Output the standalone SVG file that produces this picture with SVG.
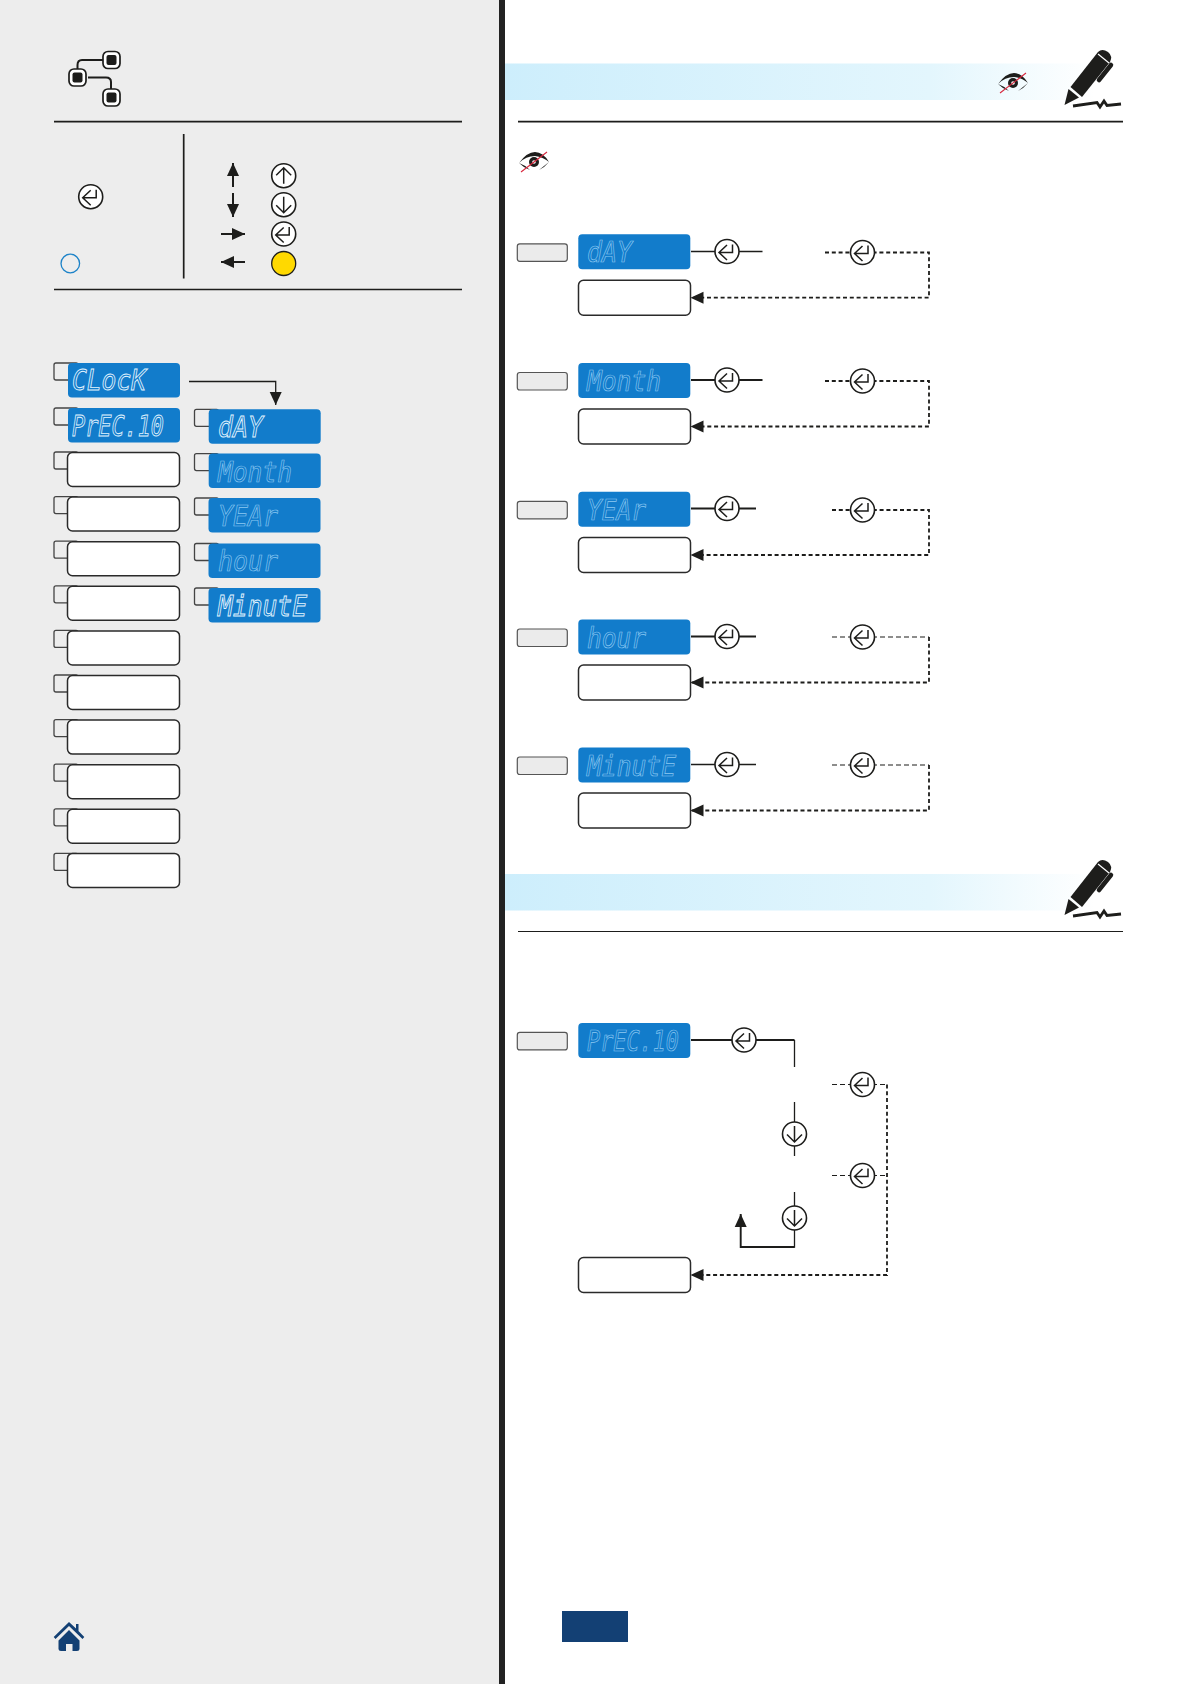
<svg xmlns="http://www.w3.org/2000/svg" xmlns:xlink="http://www.w3.org/1999/xlink" width="1191" height="1684" viewBox="0 0 1191 1684">
<style>
.disp{fill:#127ccb}
.blank{fill:#fff;stroke:#2a2a2a;stroke-width:1.5}
.tab{fill:#ededed;stroke:#444;stroke-width:1.3}
.grey{fill:#ebebeb;stroke:#555;stroke-width:1.2}
.seg{font-family:"DejaVu Sans Mono","Liberation Mono",monospace;font-style:italic;font-size:28px;fill:#127ccb;stroke:#e4f5ff;stroke-width:.9}
.dim{stroke:#8cc8f2;stroke-width:.7}
.key{fill:#fff;stroke:#1d1d1b;stroke-width:1.6}
.gl{fill:none;stroke:#1d1d1b;stroke-width:1.5}
.s{fill:none;stroke:#1d1d1b;stroke-width:1.3}
.a{marker-end:url(#ah)}
.d{stroke-dasharray:4 2.8;stroke-width:1.8}
.d2{stroke-dasharray:5 3;stroke-width:1.1}
.r{fill:none;stroke:#1d1d1b;stroke-width:1.9}
</style>
<defs>
<marker id="ah" markerUnits="userSpaceOnUse" markerWidth="14" markerHeight="13" refX="13" refY="6.5" orient="auto"><path d="M0 0.5L13 6.5L0 12.5Z" fill="#1d1d1b"/></marker>
<linearGradient id="band" x1="0" x2="1" y1="0" y2="0"><stop offset="0" stop-color="#cdeefc"/><stop offset=".72" stop-color="#e3f6fd"/><stop offset="1" stop-color="#fff"/></linearGradient>
<g id="enter"><circle class="key" r="12"/><path class="gl" d="M5.500-7V1H-8M0-6.500L-8 1L0 8.500"/></g>
<g id="up"><circle class="key" r="12"/><path class="gl" d="M0 8V-8M-7.500-.5L0-8L7.500-.5"/></g>
<g id="down"><circle class="key" r="12"/><path class="gl" d="M0-8V8M-7.500 .5L0 8L7.500 .5"/></g>
<g id="eye"><path d="M-15 1Q-7-10 1-10Q9-10 15 0Q9-5 1-6Q-8-6-15 1Z" fill="#1d1d1b"/><path d="M-15 1Q-10 6-4 8Q-9 3-15 1ZM15 0Q11 5 5 8Q10 4 15 0Z" fill="#1d1d1b"/><circle r="5" fill="#1d1d1b"/><circle r="1.800" fill="#fff"/><path d="M-13 10L13-10" stroke="#d8263c" stroke-width="1.100"/></g>
<g id="pencil"><path d="M1064.500 105L1068.500 89L1079 97.500Z" fill="#1d1d1b"/><path d="M1070.500 87L1098 52Q1102 48 1108 52Q1113 56 1110 62L1082 97Z" fill="#1d1d1b"/><path d="M1098 54L1109 63" stroke="#fff" stroke-width="1.200"/><path d="M1099 80L1111 65" stroke="#1d1d1b" stroke-width="4.500" stroke-linecap="round"/><path d="M1073 106L1097 102.500L1100 107L1104 101L1107 105.500L1121 104" fill="none" stroke="#1d1d1b" stroke-width="2.800"/></g>
</defs>
<rect id="left-panel" width="499" height="1684" fill="#ededed"/>
<rect id="divider" x="499" width="6" height="1684" fill="#222"/>
<g id="hierarchy-icon" fill="none" stroke="#1d1d1b">
<path d="M103 60H82Q77.500 60 77.500 65V70M88 77.500H106Q111 77.500 111 82V90" stroke-width="2"/>
<rect x="103" y="51.500" width="17" height="17" rx="5" fill="#fff" stroke-width="1.700"/><rect x="106.500" y="55" width="10" height="10" rx="2" fill="#1d1d1b" stroke="none"/>
<rect x="69" y="69" width="17" height="17" rx="5" fill="#fff" stroke-width="1.700"/><rect x="72.500" y="72.500" width="10" height="10" rx="2" fill="#1d1d1b" stroke="none"/>
<rect x="103" y="89" width="17" height="17" rx="5" fill="#fff" stroke-width="1.700"/><rect x="106.500" y="92.500" width="10" height="10" rx="2" fill="#1d1d1b" stroke="none"/>
</g>
<g id="rules" stroke="#1d1d1b" stroke-width="1.700">
<path d="M54 121.700H462M54 289.500H462M183.700 134V278.500M518 121.700H1123"/><path d="M518 931.500H1123" stroke-width="1.100"/>
</g>
<g id="legend">
<use href="#enter" x="90.700" y="196.700"/>
<circle id="legend-blue" cx="70.300" cy="263.500" r="9.300" fill="none" stroke="#1b82c8" stroke-width="1.300"/>
<use href="#up" x="283.700" y="175.700"/><use href="#down" x="283.700" y="204.700"/><use href="#enter" x="283.700" y="234"/>
<circle id="legend-yellow" cx="283.700" cy="263.500" r="12" fill="#ffd900" stroke="#1d1d1b" stroke-width="1.300"/>
</g>
<g id="connectors">
<g class="s" stroke-width="1.500">
<path class="a" d="M233 187V163" style="stroke-width:2"/><path class="a" d="M233 193V217" style="stroke-width:2"/><path class="a" d="M221 234H245" style="stroke-width:2"/><path class="a" d="M245 262H221" style="stroke-width:2"/>
<path class="a" d="M189 381.500H275.700V405"/>
</g>
<path class="s" d="M691 251.500H762.500"/><path class="s d a" d="M825 252.500H929V297.700H690.500"/>
<path class="r" d="M691 380H762.500"/><path class="s d a" d="M825 381H929V426.500H690.500" />
<path class="r" d="M691 508.500H756"/><path class="s d a" d="M832 510H929V555H690.500"/>
<path class="r" d="M691 636.500H756"/><path class="s d2" d="M832 637H929"/><path class="s d a" d="M929 637V682.500H690.500"/>
<path class="s" d="M691 764.500H756"/><path class="s d2" d="M832 765H929"/><path class="s d a" d="M929 765V810.500H690.500"/>
<path class="r" d="M691 1040H794.500"/><path class="s" d="M794.500 1040V1067M794.500 1102V1156M794.500 1192V1247H740.700"/><path class="r a" d="M794.500 1247H740.700V1214"/>
<path class="s d2" d="M832 1084.500H887M832 1175.500H887"/><path class="s d a" d="M887 1084.500V1275H690.500"/>
</g>
<g id="menu-left">
<g id="m-clock"><rect class="tab" x="54" y="363" width="24" height="17" rx="2"/><rect class="disp" x="68" y="363" width="112" height="34.500" rx="4"/><text class="seg" x="72" y="390" textLength="74" lengthAdjust="spacingAndGlyphs">CLocK</text></g>
<g id="m-prec"><rect class="tab" x="54" y="408" width="24" height="17" rx="2"/><rect class="disp" x="68" y="408" width="112" height="34.500" rx="4"/><text class="seg" x="72" y="435.500" textLength="92" lengthAdjust="spacingAndGlyphs">PrEC.10</text></g>
<g id="m3"><rect class="tab" x="54" y="452" width="24" height="17" rx="2"/><rect class="blank" x="67.500" y="452.500" width="112" height="34" rx="5"/></g>
<g id="m4"><rect class="tab" x="54" y="496.600" width="24" height="17" rx="2"/><rect class="blank" x="67.500" y="497" width="112" height="34" rx="5"/></g>
<g id="m5"><rect class="tab" x="54" y="541.200" width="24" height="17" rx="2"/><rect class="blank" x="67.500" y="541.700" width="112" height="34" rx="5"/></g>
<g id="m6"><rect class="tab" x="54" y="585.800" width="24" height="17" rx="2"/><rect class="blank" x="67.500" y="586.300" width="112" height="34" rx="5"/></g>
<g id="m7"><rect class="tab" x="54" y="630.400" width="24" height="17" rx="2"/><rect class="blank" x="67.500" y="630.900" width="112" height="34" rx="5"/></g>
<g id="m8"><rect class="tab" x="54" y="675" width="24" height="17" rx="2"/><rect class="blank" x="67.500" y="675.500" width="112" height="34" rx="5"/></g>
<g id="m9"><rect class="tab" x="54" y="719.600" width="24" height="17" rx="2"/><rect class="blank" x="67.500" y="720.100" width="112" height="34" rx="5"/></g>
<g id="m10"><rect class="tab" x="54" y="764.200" width="24" height="17" rx="2"/><rect class="blank" x="67.500" y="764.700" width="112" height="34" rx="5"/></g>
<g id="m11"><rect class="tab" x="54" y="808.800" width="24" height="17" rx="2"/><rect class="blank" x="67.500" y="809.300" width="112" height="34" rx="5"/></g>
<g id="m12"><rect class="tab" x="54" y="853.400" width="24" height="17" rx="2"/><rect class="blank" x="67.500" y="853.400" width="112" height="34" rx="5"/></g>
</g>
<g id="menu-right">
<g id="c-day"><rect class="tab" x="194.500" y="409.300" width="24" height="17" rx="2"/><rect class="disp" x="208.700" y="409.300" width="112" height="34.500" rx="4"/><text class="seg" x="218" y="437" textLength="45" lengthAdjust="spacingAndGlyphs">dAY</text></g>
<g id="c-month"><rect class="tab" x="194.500" y="453.600" width="24" height="17" rx="2"/><rect class="disp" x="208.700" y="453.600" width="112" height="34.500" rx="4"/><text class="seg dim" x="218" y="481.500" textLength="74" lengthAdjust="spacingAndGlyphs">Month</text></g>
<g id="c-year"><rect class="tab" x="194.500" y="498" width="24" height="17" rx="2"/><rect class="disp" x="208.500" y="498" width="112" height="34.500" rx="4"/><text class="seg dim" x="218" y="525.500" textLength="60" lengthAdjust="spacingAndGlyphs">YEAr</text></g>
<g id="c-hour"><rect class="tab" x="194.500" y="543.500" width="24" height="17" rx="2"/><rect class="disp" x="208.500" y="543.500" width="112" height="34.500" rx="4"/><text class="seg dim" x="218" y="571" textLength="60" lengthAdjust="spacingAndGlyphs">hour</text></g>
<g id="c-minute"><rect class="tab" x="194.500" y="588" width="24" height="17" rx="2"/><rect class="disp" x="208.500" y="588" width="112" height="34.500" rx="4"/><text class="seg" x="218" y="615.500" textLength="89" lengthAdjust="spacingAndGlyphs">MinutE</text></g>
</g>
<g id="header-1"><rect x="505" y="63.500" width="590" height="36.500" fill="url(#band)"/><use href="#eye" x="1013" y="83"/><use href="#pencil"/></g>
<use id="eye-note" href="#eye" x="534" y="162"/>
<g id="row-day"><rect class="grey" x="517.300" y="243.800" width="50" height="17.500" rx="2.500"/><rect class="disp" x="578.300" y="234.300" width="112" height="35" rx="4"/><text class="seg dim" x="587" y="262" textLength="45" lengthAdjust="spacingAndGlyphs">dAY</text><rect class="blank" x="578.500" y="280.200" width="112" height="35" rx="5"/><use href="#enter" x="727" y="251.500"/><use href="#enter" x="862.500" y="252.500"/></g>
<g id="row-month"><rect class="grey" x="517.300" y="372.500" width="50" height="17.500" rx="2.500"/><rect class="disp" x="578.300" y="363" width="112" height="35" rx="4"/><text class="seg dim" x="587" y="390.500" textLength="74" lengthAdjust="spacingAndGlyphs">Month</text><rect class="blank" x="578.500" y="409" width="112" height="35" rx="5"/><use href="#enter" x="727" y="380"/><use href="#enter" x="862.500" y="381"/></g>
<g id="row-year"><rect class="grey" x="517.300" y="501.300" width="50" height="17.500" rx="2.500"/><rect class="disp" x="578.300" y="491.800" width="112" height="35" rx="4"/><text class="seg dim" x="587" y="519.500" textLength="59" lengthAdjust="spacingAndGlyphs">YEAr</text><rect class="blank" x="578.500" y="537.500" width="112" height="35" rx="5"/><use href="#enter" x="727" y="508.500"/><use href="#enter" x="862.500" y="510"/></g>
<g id="row-hour"><rect class="grey" x="517.300" y="629" width="50" height="17.500" rx="2.500"/><rect class="disp" x="578.300" y="619.500" width="112" height="35" rx="4"/><text class="seg dim" x="587" y="647.500" textLength="59" lengthAdjust="spacingAndGlyphs">hour</text><rect class="blank" x="578.500" y="665" width="112" height="35" rx="5"/><use href="#enter" x="727" y="636.500"/><use href="#enter" x="862.500" y="637"/></g>
<g id="row-minute"><rect class="grey" x="517.300" y="757" width="50" height="17.500" rx="2.500"/><rect class="disp" x="578.300" y="747.500" width="112" height="35" rx="4"/><text class="seg dim" x="587" y="775.500" textLength="89" lengthAdjust="spacingAndGlyphs">MinutE</text><rect class="blank" x="578.500" y="793" width="112" height="35" rx="5"/><use href="#enter" x="727" y="764.500"/><use href="#enter" x="862.500" y="765"/></g>
<g id="header-2"><rect x="505" y="874" width="590" height="36.500" fill="url(#band)"/><use href="#pencil" y="810"/></g>
<g id="row-prec"><rect class="grey" x="517.300" y="1032.400" width="50" height="17.500" rx="2.500"/><rect class="disp" x="578.300" y="1023" width="112" height="35" rx="4"/><text class="seg dim" x="587" y="1051" textLength="92" lengthAdjust="spacingAndGlyphs">PrEC.10</text><rect class="blank" x="578.500" y="1257.500" width="112" height="35" rx="5"/></g>
<g id="prec-keys"><use href="#enter" x="744" y="1040"/><use href="#down" x="794.500" y="1134"/><use href="#down" x="794.500" y="1218"/><use href="#enter" x="862.500" y="1084.500"/><use href="#enter" x="862.500" y="1175.500"/></g>
<g id="home-icon" fill="#134074"><path d="M53.700 1637L69 1622L76 1628.500V1624H78.500V1631L84.300 1637L82.500 1639L69 1626L55.500 1639Z"/><path d="M58.500 1640.500L69 1630L79.500 1640.500V1649Q79.500 1651 77 1651H72.500V1644H66V1651H61Q58.500 1651 58.500 1649Z"/></g>
<rect id="page-tag" x="562" y="1611" width="66" height="31" fill="#134074"/>
</svg>
